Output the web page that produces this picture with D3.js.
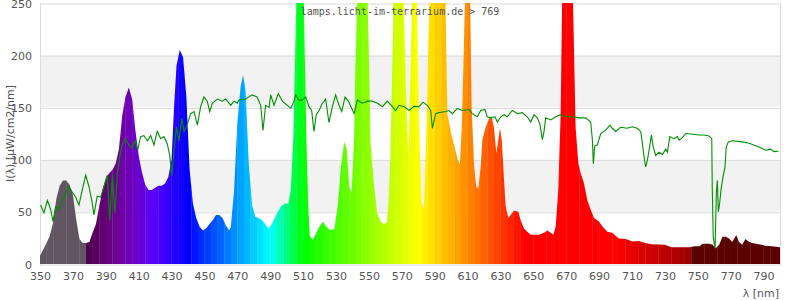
<!DOCTYPE html>
<html>
<head>
<meta charset="utf-8">
<script src="https://cdn.jsdelivr.net/npm/d3@7"></script>
<style>
  body { margin: 0; background: #fff; }
  svg { display: block; }
</style>
</head>
<body>
<div id="chart"></div>
<script>
// lamp spectrum (nm / µW/cm2/nm)
var lampNm = [350,352,354,356,358,360,362,364,366,368,370,372,374,376,378,380,382,384,386,388,
  390,392,394,396,398,400,402,404,406,408,410,412,414,416,418,420,422,424,426,428,
  430,431.5,433,435,437,439,441,443,445,447,449,451,453,455,457,459,461,463,465,466,
  468,470,472,473.5,475,477,479,481,483,485,487,489,491,493,495,497,499,501,502.5,504,
  505,506,508,510,511,512,513,514,516,518,520,522,524,526,529,531,533,535,536.5,538,
  539.5,541,542,543,546,549,550,551,553,555,557,559,561,562,563,564,565,568,571,572.5,
  574,575.5,577,579,580.5,582,583.5,585,586,587,590,594,596.5,597.7,600,602,604,605.3,606.5,607.5,
  608.5,610,611.5,612.5,614,615.3,616.5,618,619,621,623,624.7,626,627.5,628.7,629.7,630.8,632.2,633.2,634.8,
  636.2,638.2,640.9,642.3,644.3,646.3,648.4,653.5,656.5,658.5,660.6,662.2,663.6,665.2,666.6,667.5,670,674,675.7,677.4,
  678.8,680.8,682.8,684.9,686.9,690,692,695,698,700,702,706,708,710,714,716,718,722,730,734,
  745,748,751,753,757,759,761,763,765,767,769,771,773.4,775,777,779,781,783,787,791,795,800]
var lampVal = [8,14,20,27,40,63,75,80,80,76,66,43,24,20,20,21,30,38,55,71,
  82,87,90,96,110,142,160,169,158,128,104,88,76,71,71,73,75,75,77,83,
  100,150,190,205,198,160,90,58,44,36,32,34,38,42,47,47,44,37,32,35,
  70,135,170,181,166,95,56,45,44,42,38,34,38,45,51,56,58,58,71,120,
  190,260,330,290,200,120,60,27,23,30,36,40.5,36,33,33,55,93,117,110,74,
  68,120,199,260,330,270,200,117,77,49,41,38,40,60,100,170,250,320,260,170,
  100,200,300,270,135,60,52,130,200,260,320,340,260,144,125,113,100,95,131,190,
  260,300,260,150,93,74,72,93,119,131,139,141,131,106,119,130,119,80,55,44,
  47,51,50,42,34,31,28,28,30,32,30,28,36,71,143,250,400,260,131,96,
  87,77,61,52,44,40.5,36,31,30,27,24.5,24,23,21.5,22,21,20,19,18.5,16,
  16,17,17,19.5,19.5,18.5,15,18.5,26,26,24.5,21,27.8,21.4,18.5,24,21.4,20,19,17.6,17,16]

// reference (sunlight) curve, green line
var sunNm = [350.4,352.4,354.5,356.5,357.9,359.5,361.5,363.6,365.6,367.6,369.6,371.7,373.7,375.7,377.8,379.8,381.8,382.8,384.8,386.9,
  388.9,390.9,392.4,394,395.6,397,398.5,400,401.7,403.7,405.8,407.8,409.4,411.2,413.2,415.3,417.3,419.3,421.3,423.4,
  425.4,427.4,428.9,430.1,431.5,432.9,434.5,436.2,437.6,439.6,441.6,443.7,445.7,447.7,449.7,451.7,453.2,454.8,457.8,460.9,
  462.9,466,468,470,471,475,479,482,484.2,485.6,487.2,489.3,490.3,492.3,494.9,497.4,500.4,502.5,504.5,505.5,
  507.5,509.5,511.6,513.6,515.2,516.6,518,519.7,521.7,523.7,525.7,527.8,529.8,531.8,533.5,535.5,537.5,539.6,541,543,
  546,549,552,555.2,558.2,561.2,564.3,566.3,568.3,571.4,574.4,577.4,580.5,582.9,585.5,587.6,588.6,590.6,592.6,596.7,
  598.7,600.8,603.8,606.8,610.9,612.9,615.9,618,620.6,622,624.1,626.7,628.1,630.2,632.2,634.2,637.2,640.3,643.3,646.3,
  648.4,650.4,652.4,654,655.5,656.5,657.5,660.6,663.6,666.6,669.7,673.7,677.8,681.8,684.9,685.9,686.5,687.3,688.9,691,
  693,695,696.6,698,700.1,703.1,707.1,710.2,713.2,715.3,716.3,717.3,718.3,719.3,720.4,721.8,722.8,724.4,726.4,728.5,
  730.5,731.5,733,735.5,737.6,738.6,740.6,742.7,745.7,750.8,753.8,756.8,758.5,758.8,759.4,760.5,761.3,761.9,762.5,763.3,
  764.1,765.4,766.6,767.3,768.6,771,777,781.2,787.2,791.3,794.3,796.3,799]
var sunVal = [56.5,49,61,52,40.5,55,52,61,67.7,74,69,64,56.5,71,85,74,58,47,65,64,
  74,85,42,86,49,86,103,114,120,115,111,118,109,122,123,118,123,114,127,120,
  122,115,104,84,109,131.5,118,139.5,127,134,144,146,133,150.7,160,156,146,154,158,156,
  158,152,156,154,157,158,162,160,152,128,152,150,162,152,163,156,152,149,156,162,
  157,157,160,150.7,147,127,143,147,154,158,135.5,150.7,162,152,146,160,156,149,144,157,
  154,156,156,154,150.7,156,150.7,147,152,150.7,147,151,150.7,155,152,147,130,144,145,146,
  147,144,149,147,148,144,141,147,148,141,140,141,136,141,143,141,147,144,145,141,
  136,143,140,134,119,127,140,138,141,143,141,141,140,140,136,119,96,113,114,125,
  127,130,133,130,127,131,130,131.5,130,127,115.6,103,93,99,109,123.5,113,104,107,105,
  110,107,122,120,122,118.6,121,125,124.5,123.5,123.5,122.7,120,74,26,15,68,80,50,58,
  71,84,93,112,117,118,117,115.6,112,109,110,107.6,108]

var xTicks = d3.range(350, 800, 20)
var yTicks = [0, 50, 100, 150, 200, 250]
var bandTicks = [[50, 100], [150, 200]]

var width = 800, height = 300
var plot = {left: 40, right: 780, top: 3, bottom: 264}

var x = d3.scaleLinear().domain([350, 800]).range([plot.left, plot.right])
var y = d3.scaleLinear().domain([0, 250]).range([plot.bottom, plot.top])

// colour of light at a wavelength (Bruton style), grey below 378 and dark red above 745
function waveColor(w) {
  if (w < 378) return "#615561"
  if (w >= 745) return "#5a0000"
  var r = 0, g = 0, b = 0
  if (w < 440) { r = (440 - w) / 60; b = 1 }
  else if (w < 490) { g = (w - 440) / 50; b = 1 }
  else if (w < 510) { g = 1; b = (510 - w) / 20 }
  else if (w < 580) { r = (w - 510) / 70; g = 1 }
  else if (w < 645) { r = 1; g = (645 - w) / 65 }
  else r = 1
  var f = 1
  if (w < 420) f = 0.3 + 0.7 * (w - 380) / 40
  else if (w > 700) f = 0.3 + 0.7 * (780 - w) / 80
  return d3.rgb(Math.round(255 * r * f), Math.round(255 * g * f), Math.round(255 * b * f))
}

var svg = d3.select("#chart")
  .append("svg")
  .attr("width", width)
  .attr("height", height)

var defs = svg.append("defs")
defs.append("clipPath").attr("id", "plotClip")
  .append("rect")
  .attr("x", plot.left).attr("y", plot.top)
  .attr("width", plot.right - plot.left).attr("height", plot.bottom - plot.top)

var area = d3.area()
  .x(function(d, i) { return x(lampNm[i]) })
  .y0(y(0))
  .y1(function(d) { return y(d) })

defs.append("clipPath").attr("id", "spectrumClip")
  .append("path")
  .attr("d", area(lampVal))

// grey bands
svg.append("g").selectAll("rect")
  .data(bandTicks)
  .enter().append("rect")
  .attr("x", plot.left)
  .attr("y", function(d) { return y(d[1]) })
  .attr("width", plot.right - plot.left)
  .attr("height", function(d) { return y(d[0]) - y(d[1]) })
  .attr("fill", "#f2f2f2")

// gridlines + y labels
var yAxis = svg.append("g")
  .attr("transform", "translate(" + plot.left + ",0.5)")
  .call(d3.axisLeft(y).tickValues(yTicks).tickSize(-(plot.right - plot.left)).tickPadding(8))
yAxis.select(".domain").remove()
yAxis.selectAll("line").attr("stroke", "#dcdcdc")
yAxis.selectAll("text")
  .attr("fill", "#555")
  .style("font-family", "DejaVu Sans")
  .style("font-size", "11px")

// plot frame (left and right)
svg.append("line")
  .attr("x1", plot.left + 0.5).attr("x2", plot.left + 0.5)
  .attr("y1", plot.top).attr("y2", plot.bottom + 1)
  .attr("stroke", "#dcdcdc")
svg.append("line")
  .attr("x1", plot.right + 0.5).attr("x2", plot.right + 0.5)
  .attr("y1", plot.top).attr("y2", plot.bottom + 1)
  .attr("stroke", "#dcdcdc")

// spectrum, coloured in 4 nm bands
var bands = d3.range(350, 800, 4)
svg.append("g")
  .attr("clip-path", "url(#plotClip)")
  .append("g")
  .attr("clip-path", "url(#spectrumClip)")
  .selectAll("rect")
  .data(bands)
  .enter().append("rect")
  .attr("x", function(d) { return x(d) })
  .attr("y", plot.top)
  .attr("width", function(d) { return x(d + 4) - x(d) + 0.3 })
  .attr("height", plot.bottom - plot.top)
  .attr("fill", function(d) { return waveColor(d + 2) })

// reference line
var sunLine = d3.line()
  .x(function(d, i) { return x(sunNm[i]) })
  .y(function(d) { return y(d) })

svg.append("path")
  .datum(sunVal)
  .attr("clip-path", "url(#plotClip)")
  .attr("fill", "none")
  .attr("stroke", "#008f00")
  .attr("stroke-width", 1.1)
  .attr("d", sunLine)

// x axis labels
var xAxis = svg.append("g")
  .attr("transform", "translate(0," + plot.bottom + ")")
  .call(d3.axisBottom(x).tickValues(xTicks).tickSize(0).tickPadding(8).tickFormat(d3.format("d")))
xAxis.select(".domain").remove()
xAxis.selectAll("text")
  .attr("fill", "#555")
  .style("font-family", "DejaVu Sans")
  .style("font-size", "11px")

svg.append("text")
  .attr("x", 779)
  .attr("y", 297)
  .attr("text-anchor", "end")
  .attr("fill", "#555")
  .style("font-family", "DejaVu Sans")
  .style("font-size", "11px")
  .text("λ [nm]")

svg.append("text")
  .attr("transform", "translate(14," + ((plot.top + plot.bottom) / 2) + ") rotate(-90)")
  .attr("text-anchor", "middle")
  .attr("fill", "#555")
  .style("font-family", "DejaVu Sans")
  .style("font-size", "11px")
  .text("I(λ) [µW/cm2/nm]")

svg.append("text")
  .attr("x", 400)
  .attr("y", 15)
  .attr("text-anchor", "middle")
  .attr("fill", "#555")
  .style("font-family", "DejaVu Sans Mono")
  .style("font-size", "10px")
  .text("lamps.licht-im-terrarium.de > 769")
</script>
</body>
</html>
